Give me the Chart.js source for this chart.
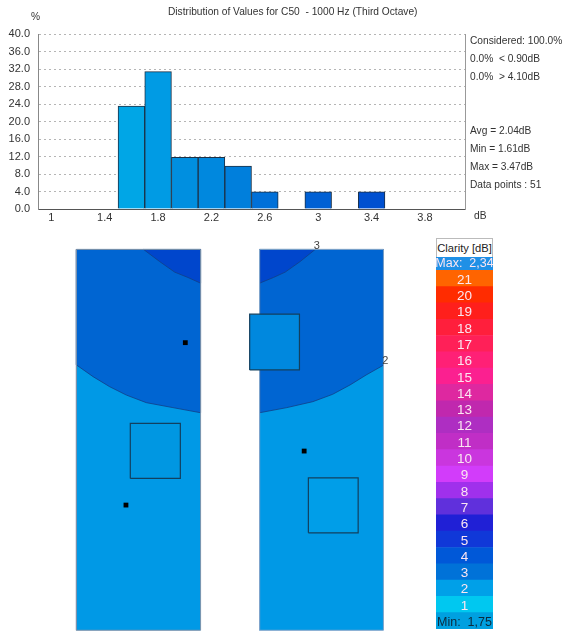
<!DOCTYPE html>
<html>
<head>
<meta charset="utf-8">
<script src="https://cdn.jsdelivr.net/npm/chart.js@4"></script>
<style>
body { margin: 0; background: #fff; font-family: "Liberation Sans", Arial, sans-serif; color: #333; }
#page { position: relative; width: 564px; height: 634px; overflow: hidden; filter: blur(0.55px); }
#page canvas { position: absolute; }
.note { position: absolute; font-size: 10.2px; line-height: 14px; white-space: pre; }
#legend-head { position: absolute; left: 436px; top: 238px; width: 55px; height: 18px; border: 1px solid #bbb; border-bottom: 0; background: #fff;
  font-size: 11.2px; line-height: 19px; text-align: center; color: #222; white-space: nowrap; z-index: 2; }
</style>
</head>
<body>
<div id="page">
  <canvas id="hist" width="466" height="230" style="left:0;top:0"></canvas>
  <canvas id="mapLeft" width="149" height="397" style="left:64px;top:237px"></canvas>
  <canvas id="mapRight" width="161" height="397" style="left:241px;top:237px"></canvas>
  <canvas id="scaleBar" width="57" height="375" style="left:436px;top:254px"></canvas>
  <div id="legend-head">Clarity [dB]</div>
</div>
<script>
// Histogram values
const binCentres = [1.6, 1.8, 2.0, 2.2, 2.4, 2.6, 3.0, 3.4];
const binPercent = [23.5, 31.4, 11.8, 11.8, 9.8, 3.9, 3.9, 3.9];
const binColors = ['#00a6e6', '#009be4', '#008fe0', '#0088de', '#007fdc', '#0070d8', '#0060d4', '#0050d0'];
const xTickValues = [1, 1.4, 1.8, 2.2, 2.6, 3, 3.4, 3.8];

// Text around the histogram: [text, left, middle]
const notes = [
    ['Distribution of Values for C50  - 1000 Hz (Third Octave)', 168, 12],
    ['%', 31, 17],
    ['dB', 474, 216],
    ['Considered: 100.0%', 470, 41],
    ['0.0%  < 0.90dB', 470, 59],
    ['0.0%  > 4.10dB', 470, 77],
    ['Avg = 2.04dB', 470, 131],
    ['Min = 1.61dB', 470, 149],
    ['Max = 3.47dB', 470, 167],
    ['Data points : 51', 470, 185]
];

// Room plan, in room units (width 10, length 30.6)
const panelOutline = [[0, 0], [10, 0], [10, 30.6], [0, 30.6], [0, 0]];
const leftMidBand = [[0, 21.32], [1.34, 20.38], [2.68, 19.57], [4.02, 18.9], [5.63, 18.29], [7.77, 17.89], [10, 17.48], [10, 30.6], [0, 30.6], [0, 21.32]];
const leftTopBand = [[5.41, 30.6], [6.7, 29.63], [7.91, 28.78], [8.98, 28.35], [10, 27.89], [10, 30.6], [5.41, 30.6]];
const rightMidBand = [[0, 17.48], [2.2, 17.89], [4.3, 18.37], [5.9, 18.96], [7.3, 19.71], [8.6, 20.51], [10, 21.3], [10, 30.6], [0, 30.6], [0, 17.48]];
const rightTopBand = [[0, 27.89], [1.13, 28.35], [2.07, 28.78], [3.28, 29.63], [4.49, 30.6], [0, 30.6], [0, 27.89]];
const leftBox = [[4.34, 12.2], [8.37, 12.2], [8.37, 16.63], [4.34, 16.63], [4.34, 12.2]];
const rightUpperBox = [[-0.8, 20.92], [3.22, 20.92], [3.22, 25.4], [-0.8, 25.4], [-0.8, 20.92]];
const rightLowerBox = [[3.94, 7.83], [7.96, 7.83], [7.96, 12.25], [3.94, 12.25], [3.94, 7.83]];
const leftDots = [[8.77, 23.11], [3.99, 10.06]];
const rightDots = [[3.6, 14.4]];
const rightContourLabels = [['3', 4.62, 30.85], ['2', 10.15, 21.6]];

// Colour scale
const scaleLabels = ['Max:  2,34', '21', '20', '19', '18', '17', '16', '15', '14', '13', '12', '11', '10', '9', '8', '7', '6', '5', '4', '3', '2', '1', 'Min:  1,75'];
const scaleColors = ['#1f90e6', '#ff6400', '#ff2c00', '#ff1f1c', '#ff1f3c', '#ff2058', '#ff2076', '#fb2090', '#de28a0', '#c028ae', '#ae2ec2', '#c02ec6', '#ca36de', '#d23cfa', '#a030ec', '#6030dc', '#2020d6', '#1038d8', '#0058d8', '#0072d8', '#00a0e8', '#00c8f0', '#00a0e0'];

Chart.defaults.animation = false;
Chart.defaults.font.family = '"Liberation Sans", Arial, sans-serif';

// Notes
const page = document.getElementById('page');
notes.forEach(([text, left, middle]) => {
    const note = document.createElement('div');
    note.className = 'note';
    note.textContent = text;
    note.style.left = left + 'px';
    note.style.top = (middle - 7) + 'px';
    page.appendChild(note);
});

// Histogram
new Chart(document.getElementById('hist'), {
    type: 'bar',
    data: {
        datasets: [{
            data: binCentres.map((x, i) => ({ x, y: binPercent[i] })),
            backgroundColor: binColors,
            borderColor: '#1c3146',
            borderWidth: 1,
            barPercentage: 1,
            categoryPercentage: 1
        }]
    },
    options: {
        responsive: false,
        layout: { padding: { top: 34, right: 1 } },
        plugins: { legend: { display: false }, tooltip: { enabled: false } },
        scales: {
            x: {
                type: 'linear',
                offset: false,
                min: 0.9,
                max: 4.1,
                afterBuildTicks: axis => { axis.ticks = xTickValues.map(value => ({ value })); },
                afterFit: axis => { axis.height = 21; },
                grid: { display: false, offset: false, drawTicks: false },
                border: { color: '#555' },
                ticks: {
                    color: '#333', font: { size: 11 }, maxRotation: 0, padding: 2,
                    autoSkip: false, callback: value => String(value)
                }
            },
            y: {
                min: 0,
                max: 40,
                afterFit: axis => { axis.width = 38; },
                grid: { color: '#b5b5b5', drawTicks: false },
                border: { color: '#888', dash: [2, 3] },
                ticks: { stepSize: 4, color: '#333', font: { size: 11 }, padding: 8, callback: value => value.toFixed(1) }
            },
            yRight: {
                position: 'right',
                min: 0,
                max: 40,
                afterFit: axis => { axis.width = 0; },
                grid: { display: false },
                border: { color: '#999' },
                ticks: { display: false }
            }
        }
    }
});

// Room plan charts
const toPoints = list => list.map(([x, y]) => ({ x, y }));

function polygon(points, fillColor, lineColor, lineWidth) {
    return {
        data: toPoints(points),
        showLine: true,
        fill: fillColor ? 'shape' : false,
        backgroundColor: fillColor || 'transparent',
        borderColor: lineColor,
        borderWidth: lineWidth,
        pointRadius: 0
    };
}

function dots(points) {
    return { data: toPoints(points), pointStyle: 'rect', pointRadius: 3.4, backgroundColor: '#000', borderColor: '#000', borderWidth: 0 };
}

const contourLabelPlugin = {
    id: 'contourLabels',
    afterDatasetsDraw(chart, args, opts) {
        const ctx = chart.ctx;
        ctx.save();
        ctx.font = '11px "Liberation Sans", Arial, sans-serif';
        ctx.fillStyle = '#444';
        ctx.textAlign = 'center';
        ctx.textBaseline = 'middle';
        (opts.labels || []).forEach(([text, x, y]) => {
            ctx.fillText(text, chart.scales.x.getPixelForValue(x), chart.scales.y.getPixelForValue(y));
        });
        ctx.restore();
    }
};

function drawMap(id, layers, xMin, xMax, labels) {
    // later layers sit on top
    layers.forEach((layer, i) => { layer.order = -i; layer.clip = false; });
    new Chart(document.getElementById(id), {
        type: 'scatter',
        data: { datasets: layers },
        plugins: [contourLabelPlugin],
        options: {
            responsive: false,
            layout: { autoPadding: false },
            plugins: { legend: { display: false }, tooltip: { enabled: false }, contourLabels: { labels } },
            scales: {
                x: { display: false, min: xMin, max: xMax },
                y: { display: false, min: -0.3, max: 31.6 }
            }
        }
    });
}

drawMap('mapLeft', [
    polygon(panelOutline, '#0099e6', '#0099e6', 0),
    polygon(leftMidBand, '#0065d2', '#123f86', 0.8),
    polygon(leftTopBand, '#0046cc', '#123f86', 0.8),
    polygon(panelOutline, null, '#7b93ad', 1),
    polygon(leftBox, '#0097e2', '#12405f', 1.2),
    dots(leftDots)
], -1, 11, []);

drawMap('mapRight', [
    polygon(panelOutline, '#0099e6', '#0099e6', 0),
    polygon(rightMidBand, '#0065d2', '#123f86', 0.8),
    polygon(rightTopBand, '#0046cc', '#123f86', 0.8),
    polygon(panelOutline, null, '#7fa5cc', 1),
    polygon(rightUpperBox, '#0088de', '#12405f', 1.2),
    polygon(rightLowerBox, '#009ee8', '#12405f', 1.2),
    dots(rightDots)
], -1.5, 11.5, rightContourLabels);

// Colour scale as a stack of full width bars
new Chart(document.getElementById('scaleBar'), {
    type: 'bar',
    data: {
        labels: scaleLabels,
        datasets: [{
            data: scaleLabels.map(() => 1),
            backgroundColor: scaleColors,
            barPercentage: 1,
            categoryPercentage: 1
        }]
    },
    plugins: [{
        id: 'cellLabels',
        afterDatasetsDraw(chart) {
            const ctx = chart.ctx;
            const x = chart.scales.x.getPixelForValue(0.5);
            ctx.save();
            ctx.textAlign = 'center';
            ctx.textBaseline = 'middle';
            scaleLabels.forEach((label, i) => {
                const long = i === 0 || i === scaleLabels.length - 1;
                ctx.font = (long ? 12.5 : 13.5) + 'px "Liberation Sans", Arial, sans-serif';
                ctx.fillStyle = i === scaleLabels.length - 1 ? '#0b2a3c' : '#fbe6f2';
                ctx.fillText(label, x, chart.scales.y.getPixelForValue(i) + 1.5);
            });
            ctx.restore();
        }
    }],
    options: {
        indexAxis: 'y',
        responsive: false,
        plugins: { legend: { display: false }, tooltip: { enabled: false } },
        scales: {
            x: { display: false, min: 0, max: 1 },
            y: { display: false }
        }
    }
});
</script>
</body>
</html>
